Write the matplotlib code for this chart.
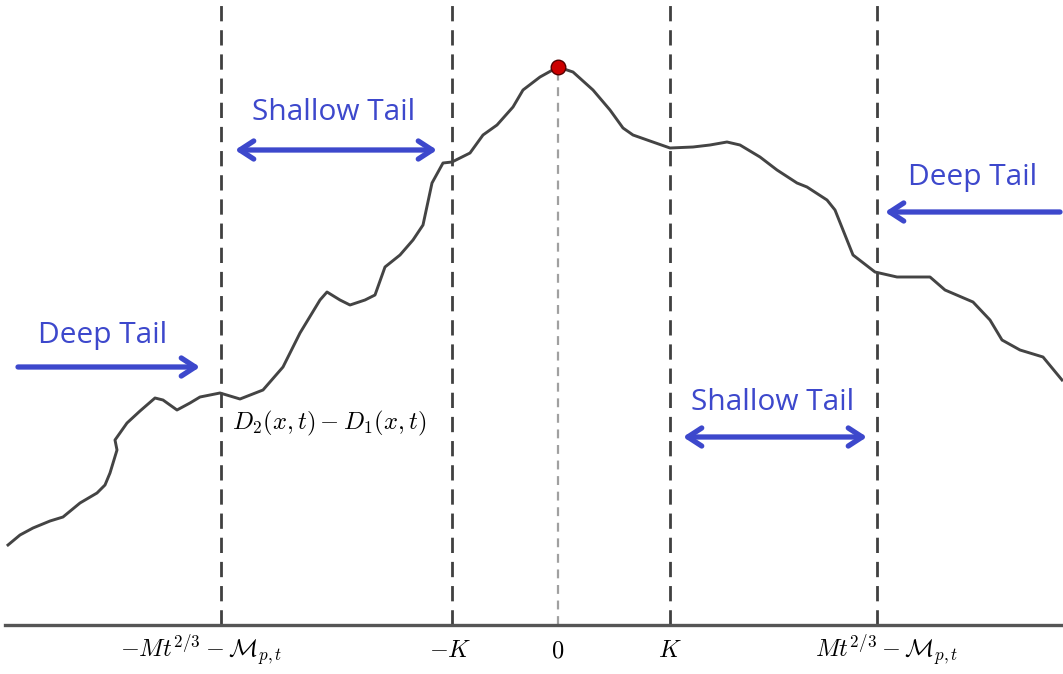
import matplotlib
matplotlib.use("Agg")
from matplotlib import pyplot as plt

plt.rcParams['mathtext.fontset'] = 'cm'

# curve: x position, height above the axis line
curve_x = [8, 20, 33, 50, 63, 80, 97, 105, 110, 117, 115, 127, 140, 155, 163, 177, 190, 200,
           220, 240, 263, 283, 300, 320, 327, 340, 350, 365, 375, 385, 400, 413, 423, 432,
           443, 452, 470, 483, 497, 513, 523, 540, 558, 573, 593, 610, 623, 633, 650, 670,
           693, 710, 727, 740, 760, 777, 797, 807, 827, 835, 845, 853, 875, 897, 930, 945,
           973, 990, 1002, 1020, 1043, 1062]
curve_y = [80, 90, 97, 104, 108, 122, 132, 140, 152, 175, 185, 202, 214, 227, 225, 215, 222,
           228, 232, 226, 235, 258, 292, 325, 333, 325, 320, 325, 330, 358, 370, 385, 400,
           442, 462, 463, 472, 490, 500, 518, 535, 548, 558, 553, 535, 515, 497, 490, 484,
           477, 478, 480, 483, 480, 468, 455, 442, 438, 425, 415, 390, 370, 353, 348, 348,
           335, 323, 305, 285, 275, 268, 245]

# vertical guides and their tick labels
guide_x = [221, 452, 670, 877]
peak_x = 558
tick_x = [201, 450, 558, 670, 887]
tick_labels = [r'$-Mt^{2/3}-\mathcal{M}_{p,t}$', r'$-K$', r'$0$', r'$K$',
               r'$Mt^{2/3}-\mathcal{M}_{p,t}$']

blue = '#3d48cc'
axis_y = 0

fig = plt.figure(figsize=(10.63, 6.74), dpi=100)
ax = fig.add_axes([0, 0, 1, 1])
ax.set_xlim(0, 1063)
ax.set_ylim(-49, 625)
ax.axis('off')

for gx in guide_x:
    ax.plot([gx, gx], [axis_y, 630], color='#404040', lw=2.0, ls=(0, (5.5, 3.2)), zorder=1)
peak_h = curve_y[curve_x.index(peak_x)]
ax.plot([peak_x, peak_x], [axis_y, peak_h], color='#a0a0a0', lw=1.6, ls=(0, (4, 3)), zorder=1)

ax.plot([5, 1063], [axis_y, axis_y], color='#555555', lw=2.4, zorder=2)
ax.plot(curve_x, curve_y, color='#444444', lw=2.1, solid_joinstyle='round', zorder=3)
ax.plot([peak_x], [peak_h], 'o', ms=10.5, color='#cc0000', mec='#550000', mew=1, zorder=4)

for tx, lab in zip(tick_x, tick_labels):
    ax.text(tx, -25, lab, ha='center', va='center', fontsize=17.5)

ax.text(232, 202, r'$D_2(x,t)-D_1(x,t)$', ha='left', va='center', fontsize=17.7)

arrow_kw = dict(color=blue, lw=3.8, capstyle='round', joinstyle='round')
def arrow(x0, x1, y, style):
    ax.annotate('', xy=(x1, y), xytext=(x0, y),
                arrowprops=dict(arrowstyle=style + ',head_length=1.0,head_width=0.65',
                                shrinkA=0, shrinkB=0, **arrow_kw))

arrow(235, 437, 475, '<->')
arrow(683, 867, 188, '<->')
arrow(18, 200, 258, '->')
arrow(1060, 885, 413, '->')

txt_kw = dict(ha='center', va='center', color=blue, fontsize=21.5, family='Open Sans')
ax.text(334, 513, 'Shallow Tail', **txt_kw)
ax.text(773, 223, 'Shallow Tail', **txt_kw)
ax.text(103, 289, 'Deep Tail', **txt_kw)
ax.text(973, 447, 'Deep Tail', **txt_kw)

fig.savefig('out.png', dpi=100)
